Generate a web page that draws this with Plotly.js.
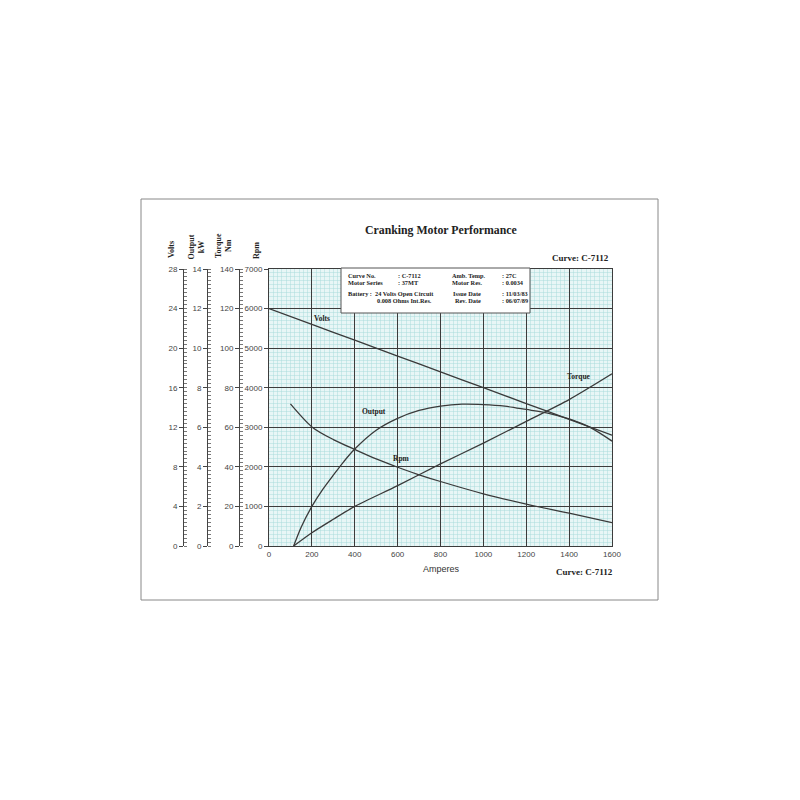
<!DOCTYPE html>
<html>
<head>
<meta charset="utf-8">
<script src="https://cdn.plot.ly/plotly-3.0.1.min.js"></script>
<style>html,body{margin:0;padding:0;background:#fff;}#chart{width:800px;height:800px;}</style>
</head>
<body>
<div id="chart"></div>
<script>
// ---- data ----
const voltsAmps = [0, 200, 400, 600, 800, 1000, 1200, 1400, 1600];
const volts = [24, 22.4, 20.8, 19.2, 17.6, 16.0, 14.4, 12.8, 11.2];

const outputAmps = [115, 150, 200, 250, 300, 350, 400, 500, 600, 700, 800, 900, 1000, 1100, 1200, 1300, 1400, 1500, 1600];
const outputKw = [0, 0.95, 2.0, 2.85, 3.58, 4.28, 4.9, 5.85, 6.45, 6.85, 7.07, 7.17, 7.15, 7.07, 6.9, 6.72, 6.42, 5.98, 5.3];

const torqueAmps = [115, 200, 300, 400, 600, 800, 1000, 1200, 1400, 1600];
const torqueNm = [0, 6.7, 13.5, 20, 30.5, 41.5, 52, 63, 74, 87];

const rpmAmps = [100, 200, 300, 400, 500, 600, 700, 800, 1000, 1200, 1400, 1600];
const rpmValues = [3590, 3010, 2690, 2440, 2200, 1990, 1800, 1630, 1320, 1060, 830, 590];

const xTicks = [0, 200, 400, 600, 800, 1000, 1200, 1400, 1600];

const infoRows = [
  ["Curve No.", ": C-7112", "Amb. Temp.", ": 27C"],
  ["Motor Series", ": 37MT", "Motor Res.", ": 0.0034"]
];
const batteryRows = [
  ["Battery :  24 Volts Open Circuit", "Issue Date", ": 11/03/83"],
  ["0.008 Ohms Int.Res.", "Rev. Date", ": 06/07/89"]
];

// ---- helpers (pixel -> paper) ----
const W = 800, H = 800;
const px = x => x / W;
const py = y => 1 - y / H;

const curveLine = {color: '#3a3a3a', width: 1.3, shape: 'spline', smoothing: 0.8};

const traces = [
  {x: voltsAmps, y: volts, yaxis: 'y2', mode: 'lines', line: curveLine, name: 'Volts'},
  {x: outputAmps, y: outputKw, yaxis: 'y3', mode: 'lines', line: curveLine, name: 'Output'},
  {x: torqueAmps, y: torqueNm, yaxis: 'y4', mode: 'lines', line: curveLine, name: 'Torque'},
  {x: rpmAmps, y: rpmValues, yaxis: 'y', mode: 'lines', line: curveLine, name: 'Rpm'}
];

const xDom = [px(269), px(612)];
const yDom = [py(546), py(269)];
const tickFont = {family: 'Liberation Sans, Arial, sans-serif', size: 8, color: '#444'};

function freeAxis(range, dtick, minorDtick, xpos) {
  return {
    range: range, domain: yDom, anchor: 'free', overlaying: 'y', position: xpos, side: 'left',
    dtick: dtick, showgrid: false, zeroline: false, showline: true, linecolor: '#444', linewidth: 1,
    ticks: 'outside', ticklen: 4, tickcolor: '#444', tickfont: tickFont,
    minor: {ticks: 'inside', ticklen: 2.5, dtick: minorDtick, tickcolor: '#777', showgrid: false},
    fixedrange: true
  };
}

const serifB = {family: 'Liberation Serif, Times New Roman, serif', color: '#222'};

const annotations = [];
function ann(text, x, y, size, opts) {
  annotations.push(Object.assign({
    text: text, xref: 'paper', yref: 'paper', x: px(x), y: py(y),
    xanchor: 'center', yanchor: 'middle', showarrow: false,
    font: Object.assign({}, serifB, {size: size})
  }, opts || {}));
}

ann('<b>Cranking Motor Performance</b>', 441, 230, 11.8);
ann('<b>Curve: C-7112</b>', 580, 258, 9);
ann('<b>Curve: C-7112</b>', 584, 572, 9);
ann('Amperes', 441, 569, 9, {font: {family: 'Liberation Sans, Arial, sans-serif', size: 9, color: '#333'}});

// axis titles (rotated)
ann('<b>Volts</b>', 171, 250, 8, {textangle: -90});
ann('<b>Output<br>kW</b>', 195.5, 247, 8, {textangle: -90});
ann('<b>Torque<br>Nm</b>', 223, 246, 8, {textangle: -90});
ann('<b>Rpm</b>', 257, 251, 8, {textangle: -90});

// curve labels
ann('<b>Volts</b>', 322, 319, 7.5);
ann('<b>Output</b>', 374, 411, 7.5);
ann('<b>Rpm</b>', 402, 458, 7.5);
ann('<b>Torque</b>', 579, 377, 7.5);

// info box text
const colX = [346, 396, 450, 500];
const rowY = [275.5, 282];
infoRows.forEach((row, r) => {
  row.forEach((t, c) => ann('<b>' + t + '</b>', colX[c], rowY[r], 6.3, {xanchor: 'left'}));
});
const bColX = [[346, 375], 451, 500];
const bRowY = [293.5, 300.5];
batteryRows.forEach((row, r) => {
  ann('<b>' + row[0] + '</b>', bColX[0][r], bRowY[r], 6.3, {xanchor: 'left'});
  ann('<b>' + row[1] + '</b>', bColX[1] + r * 2, bRowY[r], 6.3, {xanchor: 'left'});
  ann('<b>' + row[2] + '</b>', bColX[2], bRowY[r], 6.3, {xanchor: 'left'});
});

const layout = {
  width: W, height: H,
  margin: {l: 0, r: 0, t: 0, b: 0},
  paper_bgcolor: '#ffffff',
  plot_bgcolor: '#e8f6f6',
  showlegend: false,
  xaxis: {
    domain: xDom, range: [0, 1600], tickvals: xTicks, ticks: '', tickfont: tickFont,
    showgrid: true, gridcolor: '#3c3c3c', gridwidth: 1,
    minor: {dtick: 20, showgrid: true, gridcolor: '#a9dcdc', gridwidth: 0.5},
    zeroline: false, showline: true, linecolor: '#3c3c3c', linewidth: 1, mirror: true,
    fixedrange: true, anchor: 'y'
  },
  yaxis: {
    domain: yDom, range: [0, 7000], dtick: 1000, ticks: 'outside', ticklen: 4, tickcolor: '#444',
    tickfont: tickFont, showgrid: true, gridcolor: '#3c3c3c', gridwidth: 1,
    minor: {dtick: 100, showgrid: true, gridcolor: '#a9dcdc', gridwidth: 0.5},
    zeroline: false, showline: true, linecolor: '#3c3c3c', linewidth: 1, mirror: true,
    fixedrange: true, anchor: 'x'
  },
  yaxis2: freeAxis([0, 28], 4, 0.4, px(183)),
  yaxis3: freeAxis([0, 14], 2, 0.2, px(207)),
  yaxis4: freeAxis([0, 140], 20, 2, px(239)),
  shapes: [
    {type: 'rect', xref: 'paper', yref: 'paper', x0: px(141), x1: px(658), y0: py(600), y1: py(199),
     line: {color: '#888', width: 1}, fillcolor: 'rgba(0,0,0,0)', layer: 'below'},
    {type: 'rect', xref: 'paper', yref: 'paper', x0: px(341), x1: px(530), y0: py(313), y1: py(268),
     line: {color: '#555', width: 1}, fillcolor: '#ffffff', layer: 'above'}
  ],
  annotations: annotations
};

Plotly.newPlot('chart', traces, layout, {staticPlot: true, displayModeBar: false});
</script>
</body>
</html>
